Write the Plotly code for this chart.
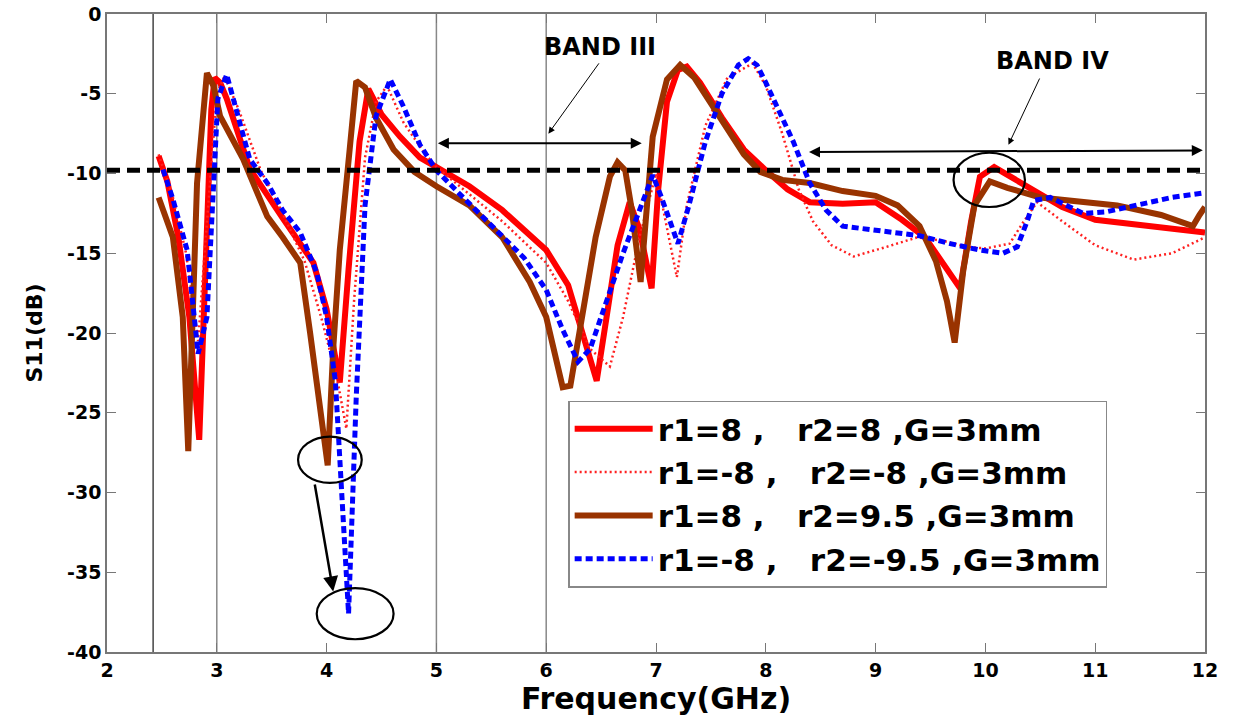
import plotly.graph_objects as go

# ---------------- data ----------------
freq_red = [2.47, 2.55, 2.65, 2.75, 2.84, 2.90, 2.95, 2.98, 3.03, 3.09, 3.30, 3.60, 3.88, 4.00, 4.12,
            4.20, 4.30, 4.38, 4.50, 4.67, 4.85, 5.00, 5.30, 5.60, 6.00, 6.20, 6.35, 6.46, 6.55, 6.65,
            6.76, 6.85, 6.96, 7.02, 7.10, 7.20, 7.28, 7.40, 7.60, 7.80, 8.00, 8.20, 8.40, 8.70, 9.00,
            9.24, 9.45, 9.60, 9.77, 9.87, 9.95, 10.08, 10.25, 10.43, 10.70, 11.00, 11.50, 12.00]
s11_red = [-8.9, -10.5, -14.0, -19.0, -26.7, -14.0, -6.0, -4.0, -4.3, -5.3, -9.7, -12.8, -15.6, -18.5, -23.1,
           -16.0, -8.0, -4.7, -6.3, -7.7, -9.0, -9.6, -10.8, -12.3, -14.8, -17.0, -20.5, -23.0, -19.0, -14.5,
           -11.8, -13.5, -17.2, -11.0, -5.5, -3.5, -3.3, -4.3, -6.5, -8.5, -9.8, -11.0, -11.8, -11.9, -11.8,
           -12.9, -14.0, -15.5, -17.2, -13.0, -10.2, -9.6, -10.3, -11.0, -12.1, -12.9, -13.3, -13.7]

freq_red_dot = [2.47, 2.60, 2.72, 2.83, 2.90, 3.00, 3.07, 3.20, 3.40, 3.60, 3.80, 3.95, 4.10, 4.18, 4.25,
                4.35, 4.45, 4.55, 4.70, 4.90, 5.00, 5.30, 5.60, 6.00, 6.20, 6.40, 6.58, 6.70, 6.85, 7.00,
                7.10, 7.19, 7.28, 7.45, 7.65, 7.88, 8.00, 8.15, 8.30, 8.43, 8.60, 8.80, 9.10, 9.38, 9.60,
                9.83, 10.00, 10.22, 10.35, 10.47, 10.70, 11.00, 11.35, 11.70, 12.00]
s11_red_dot = [-8.8, -11.5, -15.0, -20.5, -14.0, -5.0, -3.9, -6.0, -9.8, -12.5, -15.5, -19.0, -23.0, -26.0, -18.0,
               -9.0, -5.5, -4.5, -6.8, -8.8, -9.6, -11.3, -13.0, -15.6, -18.0, -21.0, -22.1, -19.0, -14.0, -10.0,
               -13.5, -16.5, -12.0, -7.0, -4.0, -3.1, -4.5, -7.5, -11.0, -13.0, -14.5, -15.2, -14.6, -14.0, -14.2,
               -14.6, -14.7, -14.4, -13.0, -11.8, -13.0, -14.5, -15.4, -15.0, -14.0]

freq_brown = [2.47, 2.60, 2.69, 2.74, 2.82, 2.91, 2.97, 3.03, 3.24, 3.46, 3.60, 3.76, 3.85, 3.93, 4.01,
              4.06, 4.12, 4.21, 4.27, 4.35, 4.45, 4.61, 4.80, 5.00, 5.30, 5.60, 5.85, 6.00, 6.10, 6.15,
              6.22, 6.30, 6.45, 6.58, 6.65, 6.72, 6.78, 6.86, 6.92, 6.97, 7.10, 7.22, 7.35, 7.55, 7.80,
              7.95, 8.15, 8.40, 8.70, 9.00, 9.20, 9.40, 9.55, 9.65, 9.72, 9.80, 9.90, 10.04, 10.20, 10.50,
              10.89, 11.20, 11.60, 11.89, 11.95, 12.00]
s11_brown = [-11.5, -14.0, -19.0, -27.4, -10.6, -3.7, -4.5, -6.4, -9.1, -12.7, -14.0, -15.6, -20.0, -24.0, -28.3,
             -21.0, -14.8, -8.5, -4.2, -4.6, -6.5, -8.5, -9.9, -10.8, -12.0, -14.0, -16.8, -19.0, -22.0, -23.4,
             -23.3, -20.0, -14.0, -10.2, -9.3, -9.8, -12.3, -16.8, -12.0, -7.7, -4.1, -3.2, -4.0, -6.2, -8.8,
             -9.9, -10.4, -10.6, -11.1, -11.4, -12.0, -13.3, -15.5, -18.0, -20.6, -16.0, -12.0, -10.5, -10.9, -11.5,
             -11.8, -12.0, -12.6, -13.3, -12.6, -12.1]

freq_blue = [2.51, 2.60, 2.73, 2.83, 2.91, 2.97, 3.01, 3.09, 3.30, 3.46, 3.60, 3.76, 3.91, 4.00, 4.08,
             4.20, 4.27, 4.35, 4.45, 4.58, 4.70, 4.85, 5.00, 5.20, 5.50, 5.80, 6.00, 6.15, 6.29, 6.40,
             6.55, 6.70, 6.85, 6.97, 7.05, 7.20, 7.30, 7.45, 7.60, 7.75, 7.84, 7.92, 8.00, 8.25, 8.40,
             8.55, 8.70, 9.07, 9.40, 9.68, 9.95, 10.16, 10.29, 10.38, 10.44, 10.59, 10.75, 10.89, 11.10, 11.35,
             11.70, 12.00]
s11_blue = [-9.75, -11.6, -14.8, -21.3, -19.0, -10.6, -5.3, -3.8, -9.1, -10.6, -12.3, -13.7, -16.2, -19.0, -23.0,
            -37.6, -24.0, -12.0, -6.4, -4.1, -5.8, -8.2, -9.8, -11.2, -13.2, -15.3, -17.3, -19.8, -21.8, -21.0,
            -18.0, -15.0, -12.3, -10.1, -11.5, -14.4, -12.0, -8.0, -5.0, -3.2, -2.8, -3.2, -4.3, -8.0, -10.6,
            -12.3, -13.3, -13.6, -13.9, -14.4, -14.8, -15.0, -14.6, -13.0, -11.7, -11.5, -12.0, -12.5, -12.4, -12.0,
            -11.5, -11.2]

series_names = ["r1=8 ,\u00a0\u00a0 r2=8 ,G=3mm", "r1=-8 ,\u00a0\u00a0 r2=-8 ,G=3mm",
                "r1=8 ,\u00a0\u00a0 r2=9.5 ,G=3mm", "r1=-8 ,\u00a0\u00a0 r2=-9.5 ,G=3mm"]

x_ticks = [2, 3, 4, 5, 6, 7, 8, 9, 10, 11, 12]
y_ticks = [0, -5, -10, -15, -20, -25, -30, -35, -40]
y_tick_labels = ["0", "-5", "-10", "-15", "-20", "-25", "-30", "-35", "-40"]
ref_level = -9.8
marker_lines = [2.42, 3.0, 5.0, 6.0]

FONT = "DejaVu Sans, Arial, sans-serif"

fig = go.Figure()

fig.add_trace(go.Scatter(x=freq_red, y=s11_red, mode="lines", name=series_names[0],
                         line=dict(color="#ff0000", width=6), legendgroup="a"))
fig.add_trace(go.Scatter(x=freq_red_dot, y=s11_red_dot, mode="lines", name=series_names[1],
                         line=dict(color="#ff2020", width=2.5, dash="2px,3px"), legendgroup="b"))
fig.add_trace(go.Scatter(x=freq_brown, y=s11_brown, mode="lines", name=series_names[2],
                         line=dict(color="#993300", width=6), legendgroup="c"))
fig.add_trace(go.Scatter(x=freq_blue, y=s11_blue, mode="lines", name=series_names[3],
                         line=dict(color="#0000ff", width=5, dash="7px,4px"), legendgroup="d"))

# reference -10 dB line
fig.add_hline(y=ref_level, line=dict(color="black", width=5, dash="13px,7px"), layer="above")

# vertical marker lines
for xv in marker_lines:
    fig.add_vline(x=xv, line=dict(color="#444444" if xv < 2.5 else "#888888", width=1.5), layer="below")

# ellipses
ell = dict(type="circle", xref="x", yref="y", line=dict(color="black", width=2.2))
fig.add_shape(x0=9.71, x1=10.36, y0=-12.1, y1=-8.7, **ell)
fig.add_shape(x0=3.74, x1=4.32, y0=-29.4, y1=-26.5, **ell)
fig.add_shape(x0=3.91, x1=4.61, y0=-39.2, y1=-36.0, **ell)

# arrow between circles
fig.add_annotation(x=4.06, y=-36.2, ax=3.89, ay=-29.4, xref="x", yref="y", axref="x", ayref="y",
                   text="", showarrow=True, arrowhead=2, arrowsize=1.2, arrowwidth=2.5, arrowcolor="black")

# band labels
fig.add_annotation(x=6.49, y=-2.1, text="BAND III", showarrow=False, xref="x", yref="y",
                   font=dict(family=FONT, size=24, color="black", weight="bold"))
fig.add_annotation(x=6.02, y=-7.5, ax=6.49, ay=-3.0, xref="x", yref="y", axref="x", ayref="y",
                   text="", showarrow=True, arrowhead=2, arrowsize=1.3, arrowwidth=1, arrowcolor="black")
fig.add_annotation(x=6.87, y=-8.1, ax=5.0, ay=-8.1, xref="x", yref="y", axref="x", ayref="y",
                   text="", showarrow=True, arrowhead=2, arrowside="end+start", arrowsize=1.1,
                   arrowwidth=2, arrowcolor="black")

fig.add_annotation(x=10.61, y=-2.95, text="BAND IV", showarrow=False, xref="x", yref="y",
                   font=dict(family=FONT, size=24, color="black", weight="bold"))
fig.add_annotation(x=10.21, y=-8.2, ax=10.50, ay=-3.95, xref="x", yref="y", axref="x", ayref="y",
                   text="", showarrow=True, arrowhead=2, arrowsize=1.3, arrowwidth=1, arrowcolor="black")
fig.add_annotation(x=11.98, y=-8.55, ax=8.38, ay=-8.65, xref="x", yref="y", axref="x", ayref="y",
                   text="", showarrow=True, arrowhead=2, arrowside="end+start", arrowsize=1.1,
                   arrowwidth=2, arrowcolor="black")

axis_common = dict(showline=True, linecolor="#777777", linewidth=1.5, mirror="ticks",
                   ticks="inside", ticklen=9, tickcolor="#777777", showgrid=False, zeroline=False,
                   automargin=False,
                   tickfont=dict(family=FONT, size=19, color="black", weight="bold"))

fig.update_xaxes(range=[2, 12], tickvals=x_ticks, **axis_common,
                 title=dict(text="Frequency(GHz)", standoff=2,
                            font=dict(family=FONT, size=30, color="black", weight="bold")))
fig.update_yaxes(range=[-40, 0], tickvals=y_ticks, ticktext=y_tick_labels, **axis_common,
                 title=dict(text="S11(dB)", standoff=18,
                            font=dict(family=FONT, size=22, color="black", weight="bold")))

fig.update_layout(
    width=1233, height=721,
    margin=dict(l=107, r=28, t=14, b=69),
    plot_bgcolor="white", paper_bgcolor="white",
    showlegend=True,
    legend=dict(x=0.42, y=0.394, xanchor="left", yanchor="top",
                bgcolor="white", bordercolor="#888888", borderwidth=1.5,
                font=dict(family=FONT, size=31, color="black", weight="bold"),
                itemwidth=78, traceorder="grouped", tracegroupgap=0),
)

fig.write_html("out.html", config={"displayModeBar": False},
               post_script="document.body.style.margin='0';document.body.style.overflow='hidden';")
